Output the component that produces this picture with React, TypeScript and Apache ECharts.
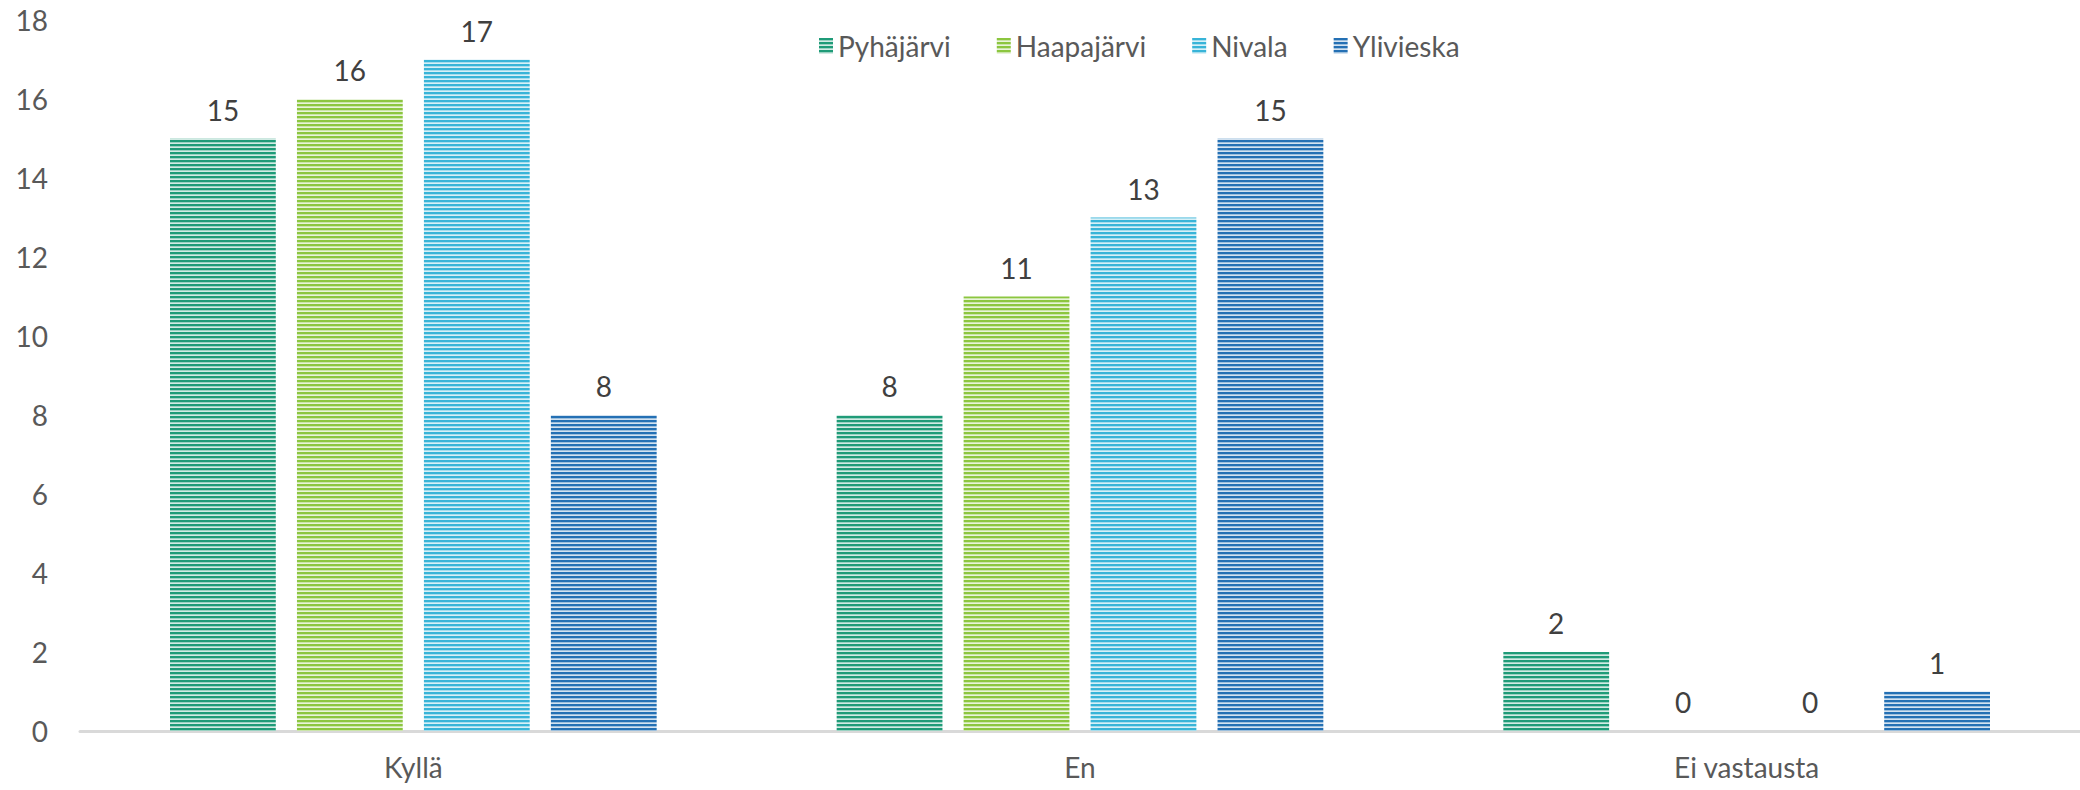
import React, { useEffect, useRef } from "react";
import * as echarts from "echarts";

const categories = ["Kyllä", "En", "Ei vastausta"];
const seriesNames = ["Pyhäjärvi", "Haapajärvi", "Nivala", "Ylivieska"];
const pyhajarvi = [15, 8, 2];
const haapajarvi = [16, 11, 0];
const nivala = [17, 13, 0];
const ylivieska = [8, 15, 1];
const seriesValues = [pyhajarvi, haapajarvi, nivala, ylivieska];
const colors = ["#1f9b78", "#8cc63f", "#38b4d8", "#2470b4"];
const yTicks = [0, 2, 4, 6, 8, 10, 12, 14, 16, 18];

function hexToRgb(h: string) {
  const n = parseInt(h.slice(1), 16);
  return [(n >> 16) & 255, (n >> 8) & 255, n & 255];
}

function stripePattern(color: string) {
  const c = document.createElement("canvas");
  c.width = 4;
  c.height = 4;
  const ctx = c.getContext("2d")!;
  const [r, g, b] = hexToRgb(color);
  ctx.fillStyle = color;
  ctx.fillRect(0, 0, 4, 2);
  const mix = (v: number, t: number) => Math.round(v + (255 - v) * t);
  ctx.fillStyle = `rgb(${mix(r, 0.55)},${mix(g, 0.55)},${mix(b, 0.55)})`;
  ctx.fillRect(0, 2, 4, 1);
  ctx.fillStyle = `rgb(${mix(r, 0.8)},${mix(g, 0.8)},${mix(b, 0.8)})`;
  ctx.fillRect(0, 3, 4, 1);
  return c;
}

export default function App() {
  const ref = useRef<HTMLDivElement>(null);
  useEffect(() => {
    if (!ref.current) return;
    const chart = echarts.init(ref.current, null, { renderer: "svg" });
    const font = "Lato";
    chart.setOption({
      animation: false,
      backgroundColor: "#ffffff",
      textStyle: { fontFamily: font },
      legend: {
        left: 814,
        top: 27,
        icon: "rect",
        itemWidth: 14,
        itemHeight: 16,
        itemGap: 46,
        textStyle: { fontFamily: font, fontSize: 28, color: "#595959" },
        data: seriesNames,
      },
      grid: { left: 80, right: 0, top: 20, bottom: 59, containLabel: false },
      xAxis: {
        type: "category",
        data: categories,
        axisLine: { lineStyle: { color: "#d9d9d9", width: 3 } },
        axisTick: { show: false },
        axisLabel: { fontFamily: font, fontSize: 28, color: "#595959", margin: 22 },
      },
      yAxis: {
        type: "value",
        min: yTicks[0],
        max: yTicks[yTicks.length - 1],
        interval: 2,
        axisLine: { show: false },
        axisTick: { show: false },
        splitLine: { show: false },
        axisLabel: { fontFamily: font, fontSize: 28, color: "#595959", margin: 32 },
      },
      series: seriesNames.map((name, i) => ({
        name,
        type: "bar",
        data: seriesValues[i],
        barGap: "20%",
        barCategoryGap: "27%",
        itemStyle: {
          color: { image: stripePattern(colors[i]), repeat: "repeat" },
          borderWidth: 0,
        },
        label: {
          show: true,
          position: "top",
          distance: 15,
          fontFamily: font,
          fontSize: 28,
          color: "#404040",
        },
      })),
    });
    return () => chart.dispose();
  }, []);
  return (
    <div
      ref={ref}
      style={{ position: "fixed", left: 0, top: 0, width: 2080, height: 790 }}
    />
  );
}
